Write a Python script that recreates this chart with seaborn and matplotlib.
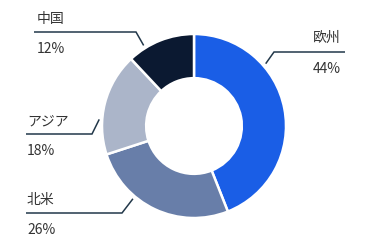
import numpy as np
import matplotlib
matplotlib.use("Agg")
import matplotlib.pyplot as plt
import seaborn as sns

# ---- data ----
regions = ["欧州", "北米", "アジア", "中国"]
shares = [44, 26, 18, 12]
colors = ["#1a5ee6", "#687ea9", "#abb5c9", "#0b1931"]

sns.set_theme(style="white")
plt.rcParams["font.family"] = ["Noto Sans CJK JP", "DejaVu Sans"]

W, H = 366, 250
fig = plt.figure(figsize=(W / 100, H / 100), dpi=100)
ax = fig.add_axes([0, 0, 1, 1])
ax.set_xlim(0, W)
ax.set_ylim(0, H)
ax.set_aspect("equal")
ax.axis("off")

cx, cy, R = 194, H - 126, 92
wedges, _ = ax.pie(shares, colors=colors, startangle=90, counterclock=False,
                   radius=R, center=(cx, cy),
                   wedgeprops=dict(width=R * 0.48, edgecolor="white", linewidth=1.8))
ax.set_xlim(0, W)
ax.set_ylim(0, H)

# label layout (pixel coords, top-left origin): (text x, name y, line y, line x end, elbow x, anchor angle, align)
layout = {
    "欧州": (341, 38, 52, 345, 274, 41, "right"),
    "北米": (27, 200, 213, 26, 122, -130, "left"),
    "アジア": (27, 122, 134, 26, 92, 176, "left"),
    "中国": (37, 19, 32, 34, 136, 122, "left"),
}
line_col = "#22384a"
txt_col = "#333333"
for name, pct in zip(regions, shares):
    tx, ny, ly, lx0, ex, ang, ha = layout[name]
    a = np.deg2rad(ang)
    axp = cx + (R + 3) * np.cos(a)
    ayp = cy + (R + 3) * np.sin(a)
    ax.plot([lx0, ex, axp], [H - ly, H - ly, ayp], color=line_col, lw=1.1,
            solid_capstyle="butt", solid_joinstyle="miter")
    ax.text(tx, H - ny, name, ha=ha, va="center", fontsize=10, color=txt_col)
    ax.text(tx, H - (ly + 17), f"{pct}%", ha=ha, va="center", fontsize=10, color=txt_col)

fig.savefig("out.png", dpi=100)
